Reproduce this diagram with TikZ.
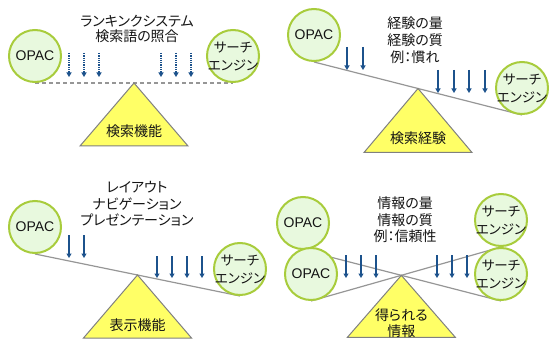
\documentclass[tikz,border=0pt]{standalone}
\usepackage{fontspec}
\setmainfont{Noto Sans CJK JP}[RawFeature={+palt}]
\newfontfamily\latinf{Liberation Sans}
\usetikzlibrary{arrows.meta,calc}
\pgfdeclarelayer{bg}
\pgfsetlayers{bg,main}
\definecolor{circfill}{RGB}{232,249,222}
\definecolor{circborder}{RGB}{168,204,60}
\definecolor{beamgray}{RGB}{150,150,150}
\definecolor{trigray}{RGB}{128,128,128}
\definecolor{triyellow}{RGB}{255,255,102}
\definecolor{arrowblue}{RGB}{28,82,140}
\definecolor{txt}{RGB}{20,20,20}
\begin{document}
\begin{tikzpicture}[x=1pt,y=-1pt,
  circ/.style={circle, draw=circborder, fill=circfill, line width=2pt, minimum size=52pt, inner sep=-8pt, align=center, text=txt, font=\fontsize{13.5}{18}\selectfont},
  opac/.style={circ, font=\latinf\fontsize{14}{16}\selectfont},
  beam/.style={draw=beamgray, line width=1.2pt},
  tri/.style={draw=trigray, fill=triyellow, line width=1pt, line join=miter},
  tritext/.style={align=center, inner sep=0pt, text=txt, font=\fontsize{14}{16.5}\selectfont},
  arr/.style={draw=arrowblue, line width=1.3pt, -{Triangle[length=4.5pt,width=5pt]}},
  lbl/.style={align=center, inner sep=0pt, text=txt, font=\fontsize{14}{16.5}\selectfont}]
\useasboundingbox (0,0) rectangle (549,342);

% ---------- panel 1 ----------
\node[opac] (o1) at (35,56) {OPAC};
\node[circ] (e1) at (233,56) {サーチ\\エンジン};
\node[lbl, font=\fontsize{14}{15.5}\selectfont] (l1) at (137,29) {ランキンクシステム\\検索語の照合};
\coordinate (apex1) at ($(o1.south)!0.5!(e1.south)$);
\begin{pgfonlayer}{bg}
\draw[beam, dash pattern=on 4pt off 3pt] (o1.south) -- (e1.south);
\end{pgfonlayer}
\draw[tri] (apex1) -- ++(-54,63) -- ++(108,0) -- cycle;
\node[tritext] (t1) at ($(apex1)+(0,48)$) {検索機能};
\foreach \x in {69,84,99,161,176,191}
  \draw[arr, densely dotted] (\x,53) -- (\x,77);

% ---------- panel 2 ----------
\node[opac] (o2) at (314,35) {OPAC};
\node[circ] (e2) at (522,88) {サーチ\\エンジン};
\node[lbl, font=\fontsize{14}{17}\selectfont] (l2) at (415,40) {経験の量\\経験の質\\例：慣れ};
\coordinate (apex2) at ($(o2.south)!0.5!(e2.south)$);
\begin{pgfonlayer}{bg}
\draw[beam] (o2.south) -- (e2.south);
\end{pgfonlayer}
\draw[tri] (apex2) -- ++(-54,64) -- ++(108,0) -- cycle;
\node[tritext] (t2) at ($(apex2)+(0,50)$) {検索経験};
\foreach \x in {347,363}
  \draw[arr] (\x,47) -- (\x,70);
\foreach \x in {438,454,469,485}
  \draw[arr] (\x,70) -- (\x,93);

% ---------- panel 3 ----------
\node[opac] (o3) at (35,227) {OPAC};
\node[circ] (e3) at (240,269) {サーチ\\エンジン};
\node[lbl] (l3) at (137,204) {レイアウト\\ナビゲーション\\プレゼンテーション};
\coordinate (apex3) at ($(o3.south)!0.5!(e3.south)$);
\begin{pgfonlayer}{bg}
\draw[beam] (o3.south) -- (e3.south);
\end{pgfonlayer}
\draw[tri] (apex3) -- ++(-54,63) -- ++(108,0) -- cycle;
\node[tritext] (t3) at ($(apex3)+(0,50)$) {表示機能};
\foreach \x in {69,84}
  \draw[arr] (\x,235) -- (\x,258);
\foreach \x in {157,172,187,202}
  \draw[arr] (\x,256) -- (\x,278);

% ---------- panel 4 ----------
\node[opac] (oa4) at (303,223) {OPAC};
\node[opac] (ob4) at (311,274) {OPAC};
\node[circ] (ea4) at (501,220) {サーチ\\エンジン};
\node[circ] (eb4) at (501,274) {サーチ\\エンジン};
\node[lbl] (l4) at (405,220) {情報の量\\情報の質\\例：信頼性};
\coordinate (apex4) at (intersection of oa4.south--eb4.south and ob4.south--ea4.south);
\begin{pgfonlayer}{bg}
\draw[beam] (oa4.south) -- (eb4.south);
\draw[beam] (ob4.south) -- (ea4.south);
\end{pgfonlayer}
\draw[tri] (apex4) -- ++(-54,62) -- ++(108,0) -- cycle;
\node[tritext] (t4) at ($(apex4)+(0,48)$) {得られる\\情報};
\foreach \x in {346,361,376,437,452,467}
  \draw[arr] (\x,255) -- (\x,278);
\end{tikzpicture}
\end{document}
